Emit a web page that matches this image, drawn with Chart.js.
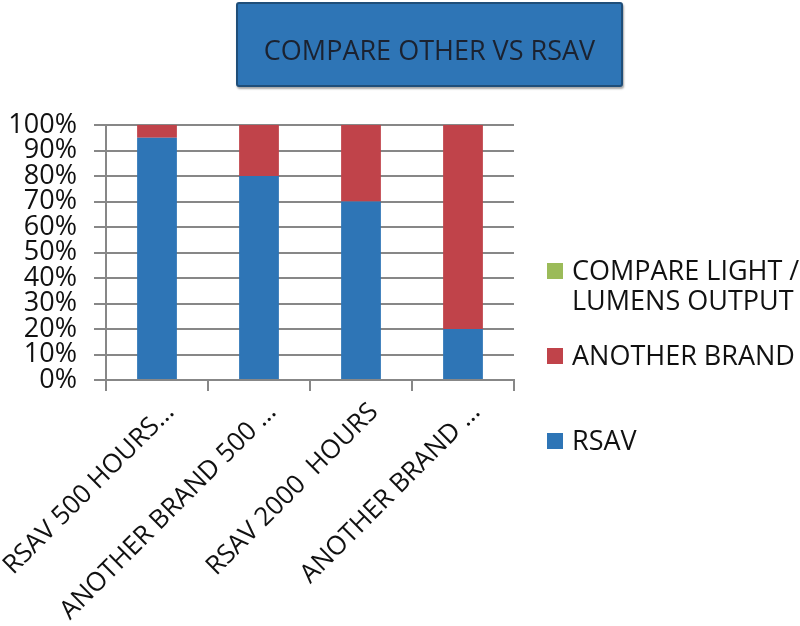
<!DOCTYPE html>
<html>
<head>
<meta charset="utf-8">
<script src="https://cdn.jsdelivr.net/npm/chart.js@4"></script>
<style>
  body { margin: 0; background: #fff; }
  #wrap { position: relative; width: 800px; height: 626px; }
  #title {
    position: absolute; left: 236px; top: 2px; width: 383px; height: 81px;
    background: #2E75B6; border: 2px solid #1F4E79; border-radius: 3px;
    box-shadow: 1px 2px 2px rgba(0,0,0,0.35);
    font: 27px "Open Sans", sans-serif; color: #1b2230;
    display: flex; align-items: center; justify-content: center;
  }
  #title span { position: relative; top: 5px; }
  #legend { position: absolute; left: 547px; top: 0; font: 27px "Open Sans", sans-serif; color: #111; }
  .item { position: absolute; left: 0; white-space: nowrap; }
  .box { position: absolute; left: 0; width: 16px; height: 16px; }
  .txt { position: absolute; left: 25px; line-height: 30px; }
</style>
</head>
<body>
<div id="wrap">
  <canvas id="chart" width="800" height="626"></canvas>
  <div id="title"><span>COMPARE OTHER VS RSAV</span></div>
  <div id="legend"></div>
</div>
<script>
"use strict";

var categories = ["RSAV 500 HOURS…", "ANOTHER BRAND 500 …", "RSAV 2000  HOURS", "ANOTHER BRAND …"];
var rsavValues = [95, 80, 70, 20];
var anotherValues = [5, 20, 30, 80];
var compareValues = [0, 0, 0, 0];
var yTicks = [0, 10, 20, 30, 40, 50, 60, 70, 80, 90, 100];

var datasets = [
  { label: "RSAV", data: rsavValues, backgroundColor: "#2E75B6" },
  { label: "ANOTHER BRAND", data: anotherValues, backgroundColor: "#C0434A" },
  { label: "COMPARE LIGHT / LUMENS OUTPUT", data: compareValues, backgroundColor: "#9BBB59" }
];
datasets.forEach(function (d) {
  d.barPercentage = 0.39;
  d.categoryPercentage = 1;
  d.borderWidth = 0;
});

var font = { family: "'Open Sans', sans-serif", size: 26 };

var chart = new Chart(document.getElementById("chart").getContext("2d"), {
  type: "bar",
  data: { labels: categories, datasets: datasets },
  options: {
    responsive: false,
    animation: false,
    layout: { padding: { left: 0, top: 125, right: 286, bottom: 0 } },
    plugins: { legend: { display: false }, tooltip: { enabled: false } },
    scales: {
      x: {
        stacked: true,
        offset: true,
        grid: { offset: true, drawOnChartArea: false, drawTicks: true, tickLength: 11, color: "#878787", lineWidth: 2 },
        border: { color: "#878787", width: 2 },
        ticks: { font: font, color: "#111", minRotation: 45, maxRotation: 45, autoSkip: false, padding: 6, labelOffset: 13 },
        afterFit: function (s) {
          s.height = 246;
          s.paddingLeft = 0;
          s.paddingRight = 0;
        }
      },
      y: {
        stacked: true,
        min: 0,
        max: 100,
        afterBuildTicks: function (s) { s.ticks = yTicks.map(function (v) { return { value: v }; }); },
        grid: { color: "#878787", lineWidth: 2, tickLength: 12 },
        border: { color: "#878787", width: 2 },
        ticks: { font: { family: font.family, size: 27 }, color: "#111", padding: 17, autoSkip: false, callback: function (v) { return v + "%"; } },
        afterFit: function (s) {
          s.width = 106;
          s.paddingTop = 0;
          s.paddingBottom = 0;
        }
      }
    }
  }
});

// legend drawn in html, order and spacing as in the picture
var legendTops = [425, 340, 255];
var legendLines = [["RSAV"], ["ANOTHER BRAND"], ["COMPARE LIGHT /", "LUMENS OUTPUT"]];
var legend = document.getElementById("legend");
datasets.forEach(function (d, i) {
  var item = document.createElement("div");
  item.className = "item";
  item.style.top = legendTops[i] + "px";
  item.innerHTML = '<div class="box" style="top:8px;background:' + d.backgroundColor + '"></div>' +
    '<div class="txt">' + legendLines[i].join("<br>") + "</div>";
  legend.appendChild(item);
});
</script>
</body>
</html>
